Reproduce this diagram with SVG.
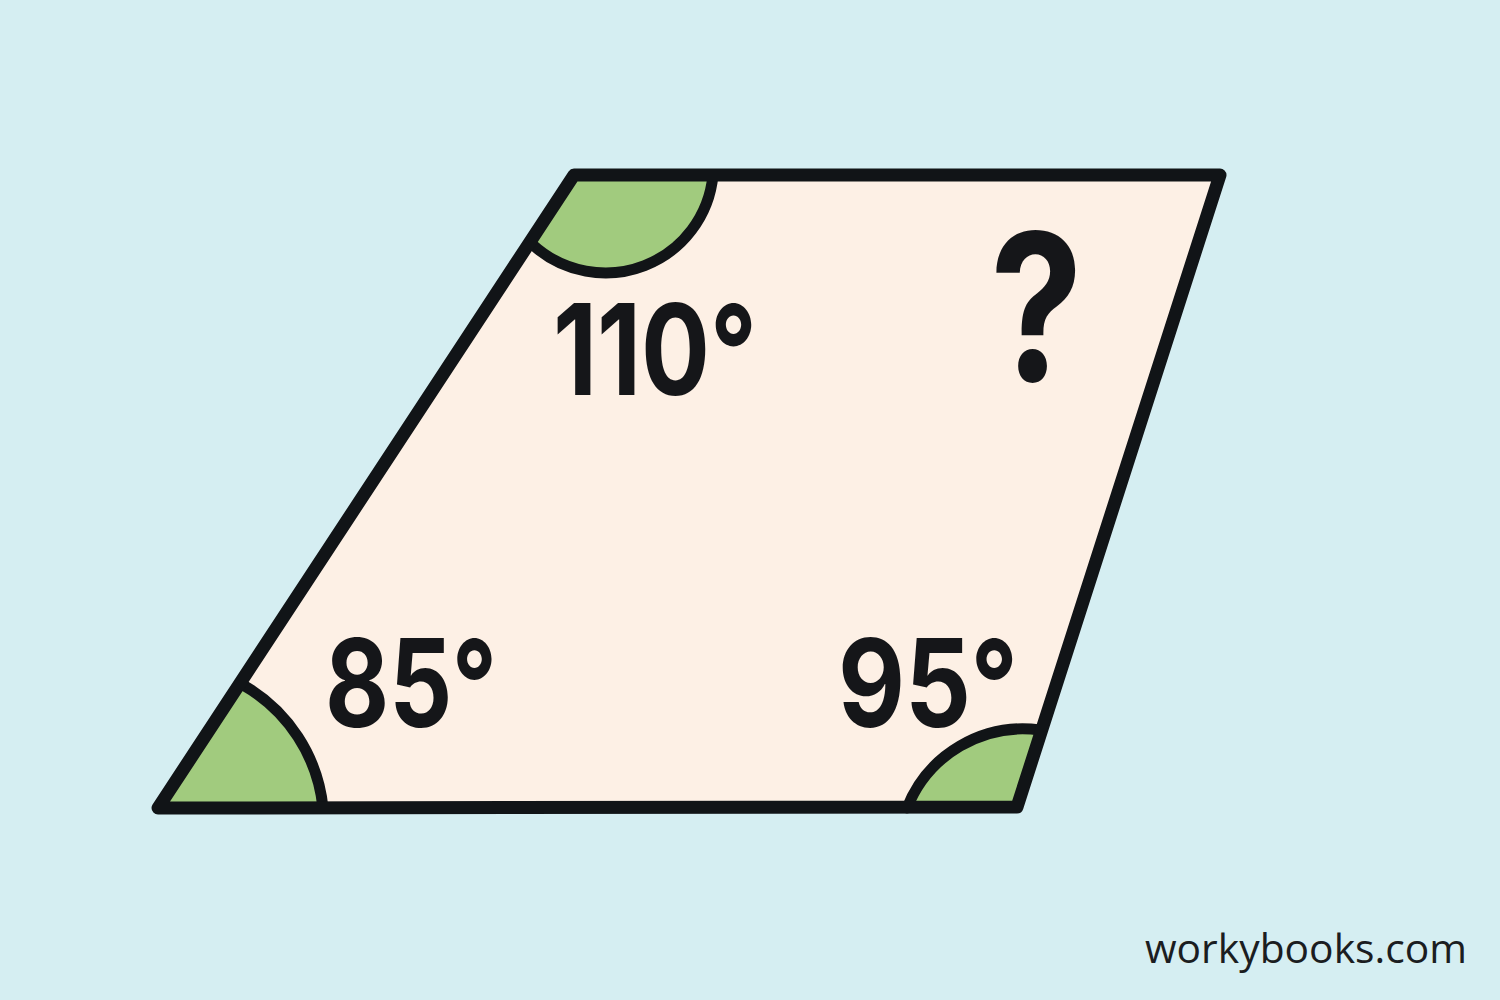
<svg xmlns="http://www.w3.org/2000/svg" width="1500" height="1000" viewBox="0 0 1500 1000">
<style>
.bg{fill:#d5eef2}
.shape{fill:#fdf0e5}
.outline{fill:none;stroke:#111417;stroke-width:13;stroke-linejoin:round;stroke-linecap:round}
.angle{fill:#a1cb7e}
.arc{fill:none;stroke:#111417;stroke-width:11;stroke-linecap:round}
.lbl{font-family:Inter,"Open Sans","Liberation Sans",sans-serif;font-weight:700;fill:#151619}
.brand{font-family:"Open Sans","Noto Sans","Liberation Sans",sans-serif;font-size:41px;fill:#1b1d21}
</style>
<rect class="bg" x="0" y="0" width="1500" height="1000"/>
<g id="quad">
<polygon class="shape" points="574,175 1220,175 1017,807 158,808"/>
</g>
<g id="angle-tl">
<path class="angle" d="M574,175 L533,245 A108 108 0 0 0 713,175 Z"/>
<path class="arc" d="M533,245 A108 108 0 0 0 713,175"/>
</g>
<g id="angle-bl">
<path class="angle" d="M158,808 L243,685 A160 160 0 0 1 323,808 Z"/>
<path class="arc" d="M243,685 A160 160 0 0 1 323,808"/>
</g>
<g id="angle-br">
<path class="angle" d="M1017,807 L907,808 A125 125 0 0 1 1040,730 Z"/>
<path class="arc" d="M907,808 A125 125 0 0 1 1040,730"/>
</g>
<g id="quad-outline">
<polygon class="outline" points="574,175 1220,175 1017,807 158,808"/>
</g>
<g id="labels">
<text class="lbl" x="553" y="395" font-size="126" textLength="204" lengthAdjust="spacingAndGlyphs">110°</text>
<text class="lbl" x="325" y="727" font-size="122" textLength="172" lengthAdjust="spacingAndGlyphs">85°</text>
<text class="lbl" x="838" y="727" font-size="122" textLength="180" lengthAdjust="spacingAndGlyphs">95°</text>
<text class="lbl" x="990" y="381" font-size="205" textLength="93" lengthAdjust="spacingAndGlyphs">?</text>
</g>
<text class="brand" x="1145" y="963" textLength="322" lengthAdjust="spacingAndGlyphs">workybooks.com</text>
</svg>
